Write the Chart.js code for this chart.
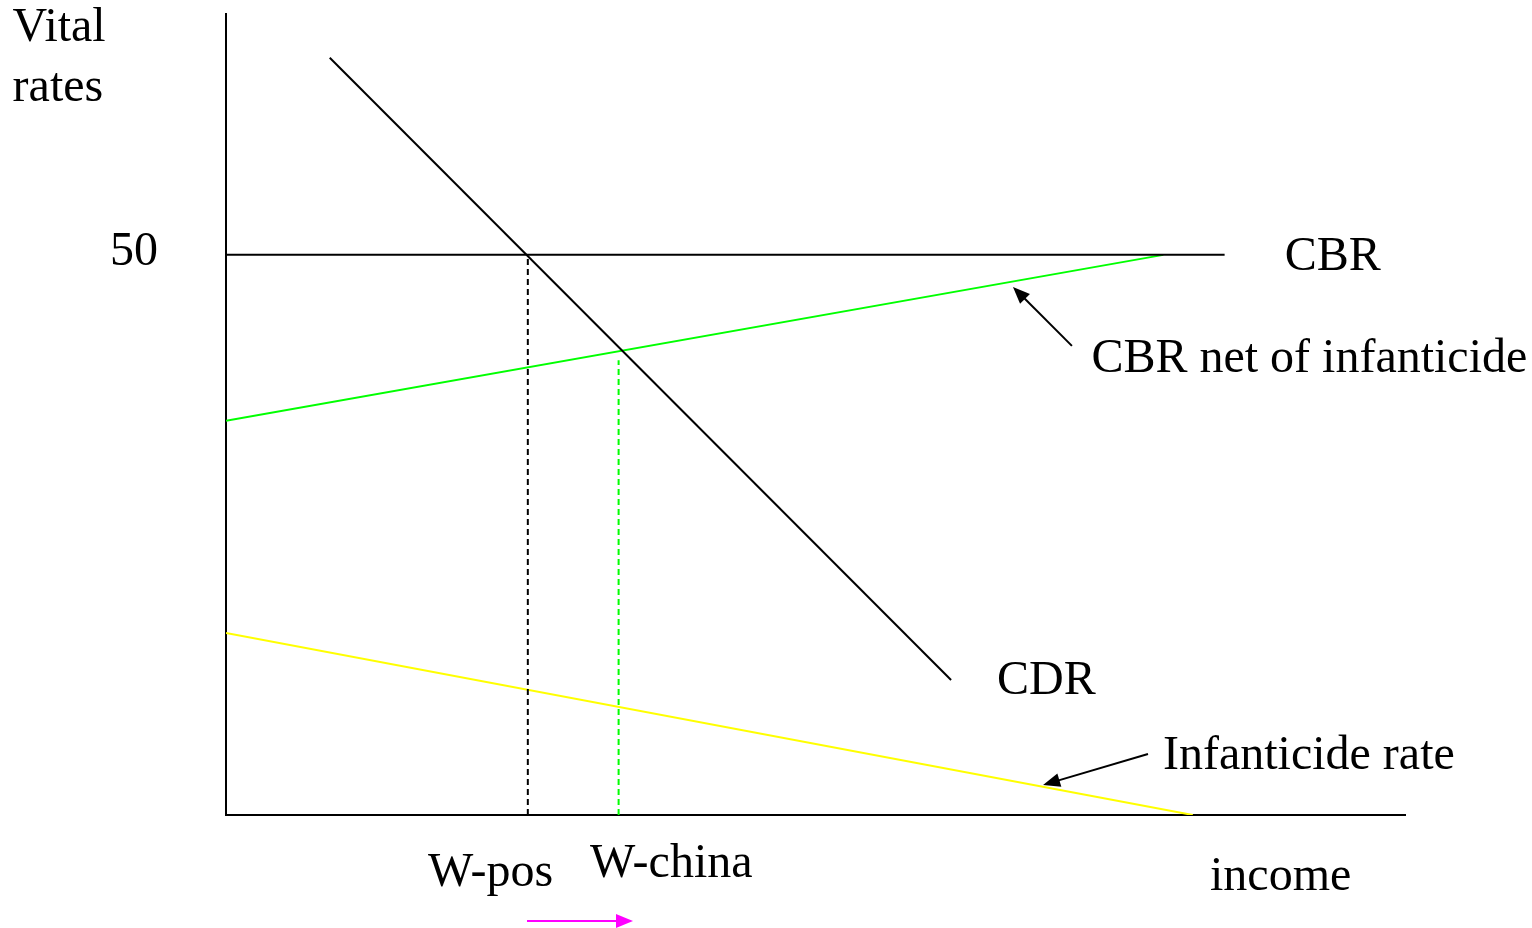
<!DOCTYPE html>
<html>
<head>
<meta charset="utf-8">
<script src="https://cdn.jsdelivr.net/npm/chart.js@4.4.1/dist/chart.umd.min.js"></script>
<style>
  html, body { margin: 0; padding: 0; background: #fff; }
  canvas { display: block; }
</style>
</head>
<body>
<canvas id="chart" width="1532" height="928"></canvas>
<script>
// values (income axis 0-100, vital rates 0-71.5)
const cdrIncome = [8.8, 61.5];
const cdrRate = [67.6, 12.05];
const cbrIncome = [0, 84.7];
const cbrRate = [50, 50];
const netIncome = [0, 79.5];
const netRate = [35.2, 50];
const infIncome = [0, 82.0];
const infRate = [16.25, 0];
const wPosIncome = [25.6, 25.6];
const wPosRate = [0, 50];
const wChinaIncome = [33.3, 33.3];
const wChinaRate = [0, 40.6];

// text labels: [text, income, rate]
const labels = [
    ['Vital', -18.1, 69.1],
    ['rates', -18.1, 63.75],
    ['50', -9.84, 49.1],
    ['CBR', 89.8, 48.66],
    ['CBR net of infanticide', 73.4, 39.55],
    ['CDR', 65.4, 10.8],
    ['Infanticide rate', 79.47, 4.11],
    ['W-pos', 17.13, -6.34],
    ['W-china', 30.87, -5.54],
    ['income', 83.46, -6.7]
];

// arrows: [fromX, fromY, toX, toY, colour]
const arrows = [
    [71.75, 41.875, 66.75, 47.14, '#000'],
    [78.2, 5.45, 69.3, 2.68, '#000'],
    [25.53, -9.46, 34.52, -9.46, '#ff00ff']
];

const pts = (xs, ys) => xs.map((x, i) => ({ x: x, y: ys[i] }));

const line = (data, color, dash) => ({
    data: data,
    showLine: true,
    borderColor: color,
    borderWidth: 2,
    borderDash: dash || [],
    pointRadius: 0,
    fill: false
});

const notes = {
    id: 'notes',
    afterDraw(chart) {
        const { ctx, scales: { x, y } } = chart;
        ctx.save();
        ctx.fillStyle = '#000';
        ctx.font = '48px "Liberation Serif", "Times New Roman", serif';
        ctx.textBaseline = 'alphabetic';
        ctx.textAlign = 'left';
        labels.forEach(([t, lx, ly]) => {
            ctx.fillText(t, x.getPixelForValue(lx), y.getPixelForValue(ly));
        });

        arrows.forEach(([x0, y0, x1, y1, c]) => {
            const px0 = x.getPixelForValue(x0), py0 = y.getPixelForValue(y0);
            const px1 = x.getPixelForValue(x1), py1 = y.getPixelForValue(y1);
            const ang = Math.atan2(py1 - py0, px1 - px0);
            const head = 17, half = 7;
            ctx.strokeStyle = c;
            ctx.fillStyle = c;
            ctx.lineWidth = 2;
            ctx.beginPath();
            ctx.moveTo(px0, py0);
            ctx.lineTo(px1 - Math.cos(ang) * head * 0.8, py1 - Math.sin(ang) * head * 0.8);
            ctx.stroke();
            ctx.beginPath();
            ctx.moveTo(px1, py1);
            ctx.lineTo(px1 - Math.cos(ang) * head - Math.sin(ang) * half, py1 - Math.sin(ang) * head + Math.cos(ang) * half);
            ctx.lineTo(px1 - Math.cos(ang) * head + Math.sin(ang) * half, py1 - Math.sin(ang) * head - Math.cos(ang) * half);
            ctx.closePath();
            ctx.fill();
        });
        ctx.restore();
    }
};

new Chart(document.getElementById('chart'), {
    type: 'scatter',
    data: {
        datasets: [
            line(pts(cbrIncome, cbrRate), '#000'),
            line(pts(cdrIncome, cdrRate), '#000'),
            line(pts(wPosIncome, wPosRate), '#000', [6, 4]),
            line(pts(wChinaIncome, wChinaRate), '#00ff00', [6, 4]),
            line(pts(netIncome, netRate), '#00ff00'),
            line(pts(infIncome, infRate), '#ffff00')
        ]
    },
    options: {
        responsive: false,
        animation: false,
        layout: { padding: { left: 218, right: 127, top: 14, bottom: 105 } },
        plugins: { legend: { display: false }, tooltip: { enabled: false } },
        scales: {
            x: {
                type: 'linear', min: 0, max: 100,
                grid: { display: false },
                ticks: { display: false },
                border: { display: true, color: '#000', width: 2 }
            },
            y: {
                type: 'linear', min: 0, max: 71.5,
                grid: { display: false },
                ticks: { display: false },
                border: { display: true, color: '#000', width: 2 }
            }
        }
    },
    plugins: [notes]
});
</script>
</body>
</html>
